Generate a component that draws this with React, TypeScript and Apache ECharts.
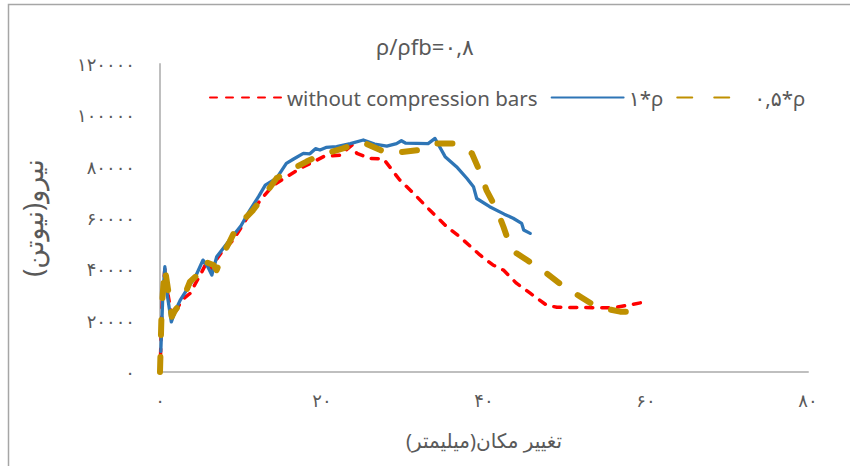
import React, { useEffect, useRef } from "react";
import * as echarts from "echarts";

const titleText = "ρ/ρfb=۰,۸";
const seriesNames = ["without compression bars", "۱*ρ", "۰,۵*ρ"];
const xAxisTitle = "تغییر مکان(میلیمتر)";
const yAxisTitle = "نیرو(نیوتن)";
const xTickLabels = ["۰", "۲۰", "۴۰", "۶۰", "۸۰"];
const yTickLabels = ["۰", "۲۰۰۰۰", "۴۰۰۰۰", "۶۰۰۰۰", "۸۰۰۰۰", "۱۰۰۰۰۰", "۱۲۰۰۰۰"];

const redX = [0, 0.3, 0.6, 1.0, 1.5, 2.7, 3.7, 5.0, 5.8, 6.5, 7.0, 7.8, 9.05, 11.1, 12.75, 14.0, 15.35, 17.3, 20.2, 22.2, 23.7, 24.3, 25.9, 27.6, 29.6, 31.3, 33.3, 35.4, 37.0, 39.5, 41.1, 42.4, 44.0, 45.7, 47.7, 49.0, 56.0, 57.2, 60.1];
const redY = [0, 30000, 40000, 30000, 21000, 28000, 30600, 38000, 43000, 40000, 44000, 47500, 51400, 61800, 68300, 72800, 75500, 79300, 83900, 84500, 88400, 85200, 83200, 83000, 74800, 69600, 63100, 56600, 52700, 45600, 41700, 39700, 34600, 30700, 26100, 25200, 25000, 25700, 27400];

const blueX = [0.1, 0.35, 0.6, 0.9, 1.4, 1.9, 2.5, 3.5, 4.5, 5.3, 5.9, 6.4, 7.0, 8.6, 10, 11.1, 12.2, 13.0, 14.4, 15.6, 16.5, 17.7, 18.5, 19.2, 19.75, 20.5, 21.8, 23.5, 25.1, 26.5, 28, 29.2, 29.8, 30.3, 33.1, 33.95, 35.2, 36.6, 37.9, 38.7, 39.1, 40.7, 42.5, 43.6, 44.65, 44.9, 45.7];
const blueY = [8000, 30000, 41000, 30000, 19500, 24000, 28000, 33000, 38000, 43600, 41000, 37800, 44900, 51400, 57000, 63100, 68500, 72800, 75500, 81300, 83000, 85200, 85000, 87000, 86500, 87500, 87800, 89000, 90400, 88800, 88000, 89000, 90100, 89200, 89000, 91000, 83900, 80000, 75400, 72200, 67600, 64400, 61500, 59900, 57900, 55300, 54000];

const goldX = [0, 0.2, 0.4, 0.6, 1.0, 1.45, 1.85, 2.7, 3.7, 5.3, 5.5, 6.6, 7.0, 7.6, 8.6, 9.5, 11.5, 12.75, 14.4, 16.5, 18.1, 19.75, 22.6, 24.9, 27.2, 28.0, 29.2, 32.1, 33.7, 36.6, 38.5, 39.5, 40.3, 41.6, 42.4, 43.4, 45.3, 47.7, 49.6, 51.9, 53.9, 56.8, 58.0];
const goldY = [0, 24000, 33000, 40400, 32000, 21500, 24000, 27400, 35200, 39700, 43000, 41700, 39700, 45000, 50800, 56600, 63100, 68300, 75500, 79300, 82000, 84500, 87100, 89700, 86500, 85200, 85500, 86500, 89000, 89000, 85200, 78000, 70900, 63100, 56600, 47500, 43600, 38500, 33900, 29300, 25400, 23500, 23500];

const zip = (xs: number[], ys: number[]) => xs.map((x, i) => [x, ys[i]]);

const TEXT = "#595959";
const FONT = "'Noto Sans', 'DejaVu Sans', sans-serif";

export default function App() {
  const ref = useRef<HTMLDivElement>(null);
  useEffect(() => {
    if (!ref.current) return;
    const chart = echarts.init(ref.current, null, { renderer: "svg" });
    chart.setOption({
      animation: false,
      backgroundColor: "#ffffff",
      textStyle: { fontFamily: FONT, color: TEXT },
      title: {
        text: titleText,
        left: "center",
        top: 30,
        textStyle: { fontSize: 22, fontWeight: "normal", color: TEXT, fontFamily: FONT },
      },
      legend: {
        left: 204,
        top: 82,
        itemWidth: 72,
        itemHeight: 14,
        itemGap: 13,
        itemStyle: { opacity: 0 },
        textStyle: { fontSize: 20.5, color: TEXT, fontFamily: FONT },
        data: seriesNames,
      },
      graphic: [
        {
          type: "rect",
          shape: { x: 8.5, y: 4.5, width: 900, height: 500 },
          style: { fill: "none", stroke: "#A6A6A6", lineWidth: 1.5 },
          silent: true,
        },
      ],
      grid: { left: 160, top: 64, right: 42, bottom: 94, containLabel: false },
      xAxis: {
        type: "value",
        min: 0,
        max: 80,
        interval: 20,
        name: xAxisTitle,
        nameLocation: "middle",
        nameGap: 58,
        nameTextStyle: { fontSize: 20, color: TEXT, fontFamily: FONT },
        axisLine: { show: true, lineStyle: { color: "#BFBFBF", width: 2 } },
        axisTick: { show: false },
        splitLine: { show: false },
        axisLabel: {
          margin: 19,
          fontSize: 18,
          color: TEXT,
          fontFamily: FONT,
          formatter: (v: number) => xTickLabels[Math.round(v / 20)] ?? "",
        },
      },
      yAxis: {
        type: "value",
        min: 0,
        max: 120000,
        interval: 20000,
        name: yAxisTitle,
        nameLocation: "middle",
        nameRotate: 90,
        nameGap: 114,
        nameTextStyle: { fontSize: 27, color: TEXT, fontFamily: FONT },
        axisLine: { show: true, lineStyle: { color: "#BFBFBF", width: 2 } },
        axisTick: { show: false },
        splitLine: { show: false },
        axisLabel: {
          margin: 25,
          fontSize: 18,
          color: TEXT,
          fontFamily: FONT,
          formatter: (v: number) => yTickLabels[Math.round(v / 20000)] ?? "",
        },
      },
      series: [
        {
          name: seriesNames[0],
          type: "line",
          data: zip(redX, redY),
          showSymbol: false,
          symbol: "none",
          itemStyle: { color: "#FF0000" },
          lineStyle: { color: "#FF0000", width: 3.5, type: [7, 9], cap: "round", join: "round" },
          z: 2,
        },
        {
          name: seriesNames[1],
          type: "line",
          data: zip(blueX, blueY),
          showSymbol: false,
          symbol: "none",
          itemStyle: { color: "#2E75B6" },
          lineStyle: { color: "#2E75B6", width: 3.3, cap: "round", join: "round" },
          z: 3,
        },
        {
          name: seriesNames[2],
          type: "line",
          data: zip(goldX, goldY),
          showSymbol: false,
          symbol: "none",
          itemStyle: { color: "#BF9000" },
          lineStyle: { color: "#BF9000", width: 6, type: [15, 22], cap: "round", join: "round" },
          z: 4,
        },
      ],
    });
    return () => chart.dispose();
  }, []);
  return (
    <div
      ref={ref}
      style={{ position: "fixed", left: 0, top: 0, width: 850, height: 466, background: "#fff" }}
    />
  );
}
